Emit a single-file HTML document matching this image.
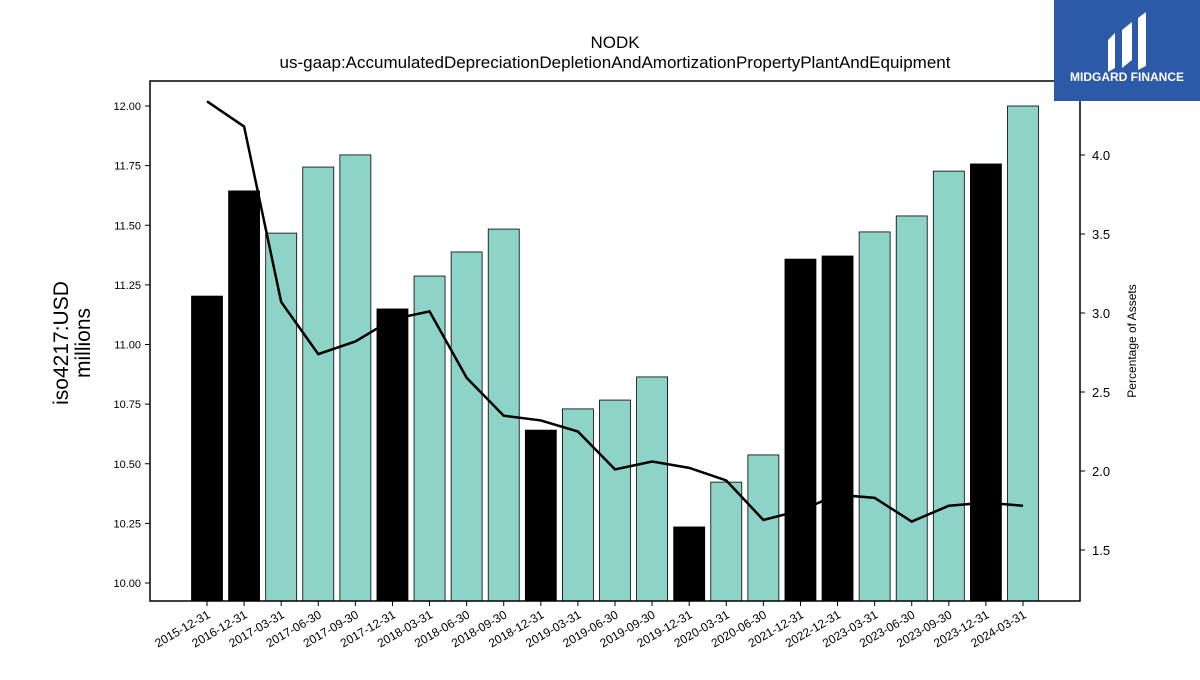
<!DOCTYPE html>
<html><head><meta charset="utf-8"><style>
body{margin:0;background:#fff;width:1200px;height:675px;overflow:hidden;font-family:"Liberation Sans",sans-serif}
</style></head><body>
<svg id="chart" width="1200" height="675" xmlns="http://www.w3.org/2000/svg" font-family="Liberation Sans, sans-serif">
<text x="615" y="48" text-anchor="middle" font-size="17">NODK</text>
<text x="615" y="68" text-anchor="middle" font-size="17">us-gaap:AccumulatedDepreciationDepletionAndAmortizationPropertyPlantAndEquipment</text>
<g id="bars"></g>
<g id="line"></g>
<rect x="150" y="81" width="930" height="520" fill="none" stroke="#000" stroke-width="1.5"/>
<g id="axes"></g>
<text transform="translate(68,343) rotate(-90)" text-anchor="middle" font-size="21">iso4217:USD</text>
<text transform="translate(90,343) rotate(-90)" text-anchor="middle" font-size="21">millions</text>
<text transform="translate(1136,341) rotate(-90)" text-anchor="middle" font-size="12">Percentage of Assets</text>
<g>
<rect x="1054" y="0" width="146" height="101" fill="#2d5aa8"/>
<path d="M1108 40 L1115 33 L1115 68 L1108 72 Z M1122 30 L1132 22 L1132 60 L1122 68 Z M1138 18 L1146 12 L1146 66 L1138 70 Z" fill="#fff"/>
<text x="1127" y="81" text-anchor="middle" font-size="12" font-weight="bold" fill="#fff">MIDGARD FINANCE</text>
</g>
</svg>
<script>
const categories=["2015-12-31","2016-12-31","2017-03-31","2017-06-30","2017-09-30","2017-12-31","2018-03-31","2018-06-30","2018-09-30","2018-12-31","2019-03-31","2019-06-30","2019-09-30","2019-12-31","2020-03-31","2020-06-30","2021-12-31","2022-12-31","2023-03-31","2023-06-30","2023-09-30","2023-12-31","2024-03-31"];
const values=[11.203,11.644,11.467,11.744,11.795,11.149,11.287,11.388,11.484,10.641,10.730,10.767,10.864,10.235,10.423,10.537,11.358,11.371,11.472,11.539,11.727,11.757,12.00];
const annual=[1,1,0,0,0,1,0,0,0,1,0,0,0,1,0,0,1,1,0,0,0,1,0];
const pct=[4.34,4.18,3.07,2.74,2.82,2.96,3.01,2.59,2.35,2.32,2.25,2.01,2.06,2.02,1.94,1.69,1.75,1.85,1.83,1.68,1.78,1.80,1.78];
const leftTicks=[10.00,10.25,10.50,10.75,11.00,11.25,11.50,11.75,12.00];
const rightTicks=[1.5,2.0,2.5,3.0,3.5,4.0];
const NS="http://www.w3.org/2000/svg";
const xS=i=>207+i*(1023-207)/22;
const yL=v=>583-(v-10)*(477/2);
const yR=v=>155+(4-v)*158;
const bars=document.getElementById('bars'),line=document.getElementById('line'),axes=document.getElementById('axes');
function mk(t,a,p){const e=document.createElementNS(NS,t);for(const k in a)e.setAttribute(k,a[k]);p.appendChild(e);return e;}
values.forEach((v,i)=>{
 const r=mk('rect',{x:xS(i)-15.5,y:yL(v),width:31,height:601-yL(v),fill:annual[i]?'#000':'#8dd3c7',stroke:'#000','stroke-width':0.8},bars);
 
 
 mk('line',{x1:xS(i),x2:xS(i),y1:601,y2:606,stroke:'#000'},axes);
 const t=mk('text',{transform:`translate(${xS(i)+4},${617}) rotate(-30)`,'text-anchor':'end','font-size':12},axes);
 t.textContent=categories[i];
 
 
});
const pl=mk('polyline',{points:pct.map((v,i)=>xS(i)+','+yR(v)).join(' '),fill:'none',stroke:'#000','stroke-width':2.5},line);


leftTicks.forEach(v=>{
 mk('line',{x1:145,x2:150,y1:yL(v),y2:yL(v),stroke:'#000'},axes);
 const t=mk('text',{x:141,y:yL(v)+4,'text-anchor':'end','font-size':11},axes);
 t.textContent=v.toFixed(2);
 
 
});
rightTicks.forEach(v=>{
 mk('line',{x1:1080,x2:1085,y1:yR(v),y2:yR(v),stroke:'#000'},axes);
 const t=mk('text',{x:1092,y:yR(v)+5,'font-size':13},axes);
 t.textContent=v.toFixed(1);
 
 
});
</script>
</body></html>
